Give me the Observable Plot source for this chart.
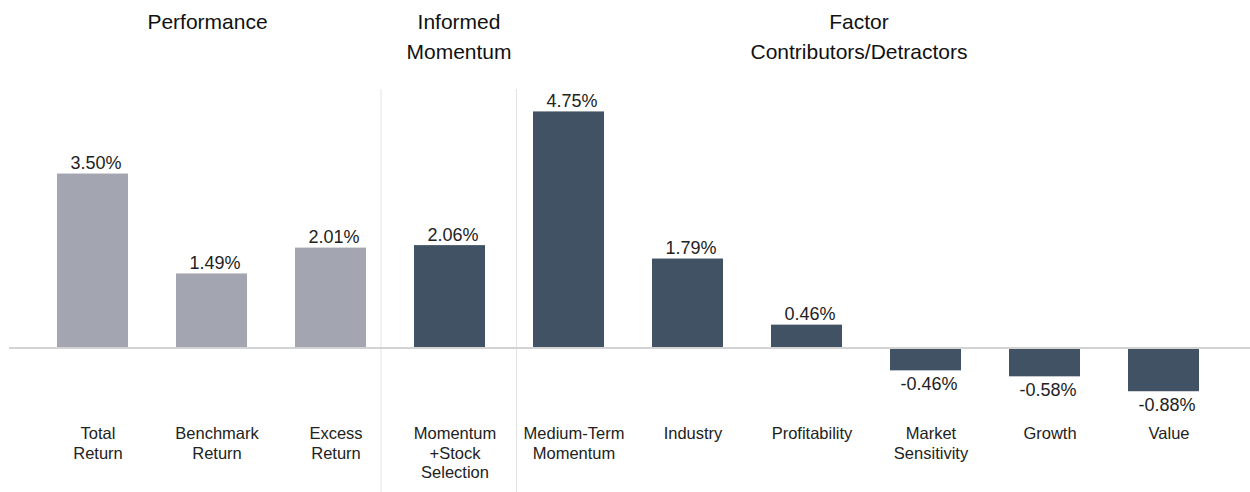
<!DOCTYPE html>
<html>
<head>
<meta charset="utf-8">
<script src="https://cdn.jsdelivr.net/npm/d3@7"></script>
<script src="https://cdn.jsdelivr.net/npm/@observablehq/plot@0.6"></script>
<style>
  html, body { margin: 0; padding: 0; background: #fff; }
  #chart svg { display: block; font-family: "Liberation Sans", Arial, sans-serif; }
</style>
</head>
<body>
<div id="chart"></div>
<script>
// ---- data ----
const categories = [
  "Total\nReturn", "Benchmark\nReturn", "Excess\nReturn",
  "Momentum\n+Stock\nSelection",
  "Medium-Term\nMomentum", "Industry", "Profitability",
  "Market\nSensitivity", "Growth", "Value"
];
const values = [3.50, 1.49, 2.01, 2.06, 4.75, 1.79, 0.46, -0.46, -0.58, -0.88];
const groups = [
  "Performance", "Performance", "Performance",
  "Informed Momentum",
  "Factor", "Factor", "Factor", "Factor", "Factor", "Factor"
];
const groupNames = ["Performance", "Informed Momentum", "Factor"];
const groupColors = ["#a3a5b0", "#415264", "#415264"];
const headerLabels = ["Performance", "Informed\nMomentum", "Factor\nContributors/Detractors"];
const headerAnchors = ["Benchmark\nReturn", "Momentum\n+Stock\nSelection", "Profitability"];
const separatorsBefore = ["Momentum\n+Stock\nSelection", "Medium-Term\nMomentum"];

const data = categories.map((c, i) => ({category: c, value: values[i], group: groups[i]}));
const fmt = v => v.toFixed(2) + "%";

const W = 1250, H = 492;
const pxPerUnit = 49.7, zeroPx = 347.5;

const plot = Plot.plot({
  width: W,
  height: H,
  marginLeft: 31,
  marginRight: 26,
  marginTop: 0,
  marginBottom: 0,
  style: {fontFamily: '"Liberation Sans", Arial, sans-serif', background: "#fff"},
  x: {domain: categories, paddingInner: 0.405, paddingOuter: 0.2025, axis: null},
  y: {domain: [-(H - zeroPx) / pxPerUnit, zeroPx / pxPerUnit], axis: null},
  color: {domain: groupNames, range: groupColors},
  marks: [
    // separators
    Plot.ruleX([separatorsBefore[0]], {x: d => d, dx: -69, insetTop: 89, stroke: "#e3e3e3", strokeWidth: 1}),
    Plot.ruleX([separatorsBefore[1]], {x: d => d, dx: -52.5, insetTop: 89, stroke: "#e3e3e3", strokeWidth: 1}),
    // bars
    Plot.barY(data, {x: "category", y: "value", fill: "group"}),
    // zero line
    Plot.ruleY([0], {stroke: "#d3d3d3", strokeWidth: 2, insetLeft: -22, insetRight: -26}),
    // value labels (positive)
    Plot.text(data.filter(d => d.value >= 0), {
      x: "category", y: "value", text: d => fmt(d.value),
      lineAnchor: "bottom", dy: -5, dx: 3, fontSize: 18, fill: "#222"
    }),
    // value labels (negative)
    Plot.text(data.filter(d => d.value < 0), {
      x: "category", y: "value", text: d => fmt(d.value),
      lineAnchor: "top", dy: 6, dx: 3, fontSize: 18, fill: "#222"
    }),
    // category labels
    Plot.text(data, {
      x: "category", text: "category", frameAnchor: "top",
      lineAnchor: "top", dy: 425, dx: 5, fontSize: 16.5, lineHeight: 1.18, fill: "#222"
    }),
    // group headers
    Plot.text([0], {x: () => headerAnchors[0], text: () => headerLabels[0], frameAnchor: "top",
      lineAnchor: "top", dy: 8, dx: -4.5, fontSize: 21, lineHeight: 1.4, fill: "#111"}),
    Plot.text([1], {x: () => headerAnchors[1], text: () => headerLabels[1], frameAnchor: "top",
      lineAnchor: "top", dy: 8, dx: 9, fontSize: 21, lineHeight: 1.4, fill: "#111"}),
    Plot.text([2], {x: () => headerAnchors[2], text: () => headerLabels[2], frameAnchor: "top",
      lineAnchor: "top", dy: 8, dx: 52, fontSize: 21, lineHeight: 1.4, fill: "#111"})
  ]
});
document.getElementById("chart").appendChild(plot);
</script>
</body>
</html>
